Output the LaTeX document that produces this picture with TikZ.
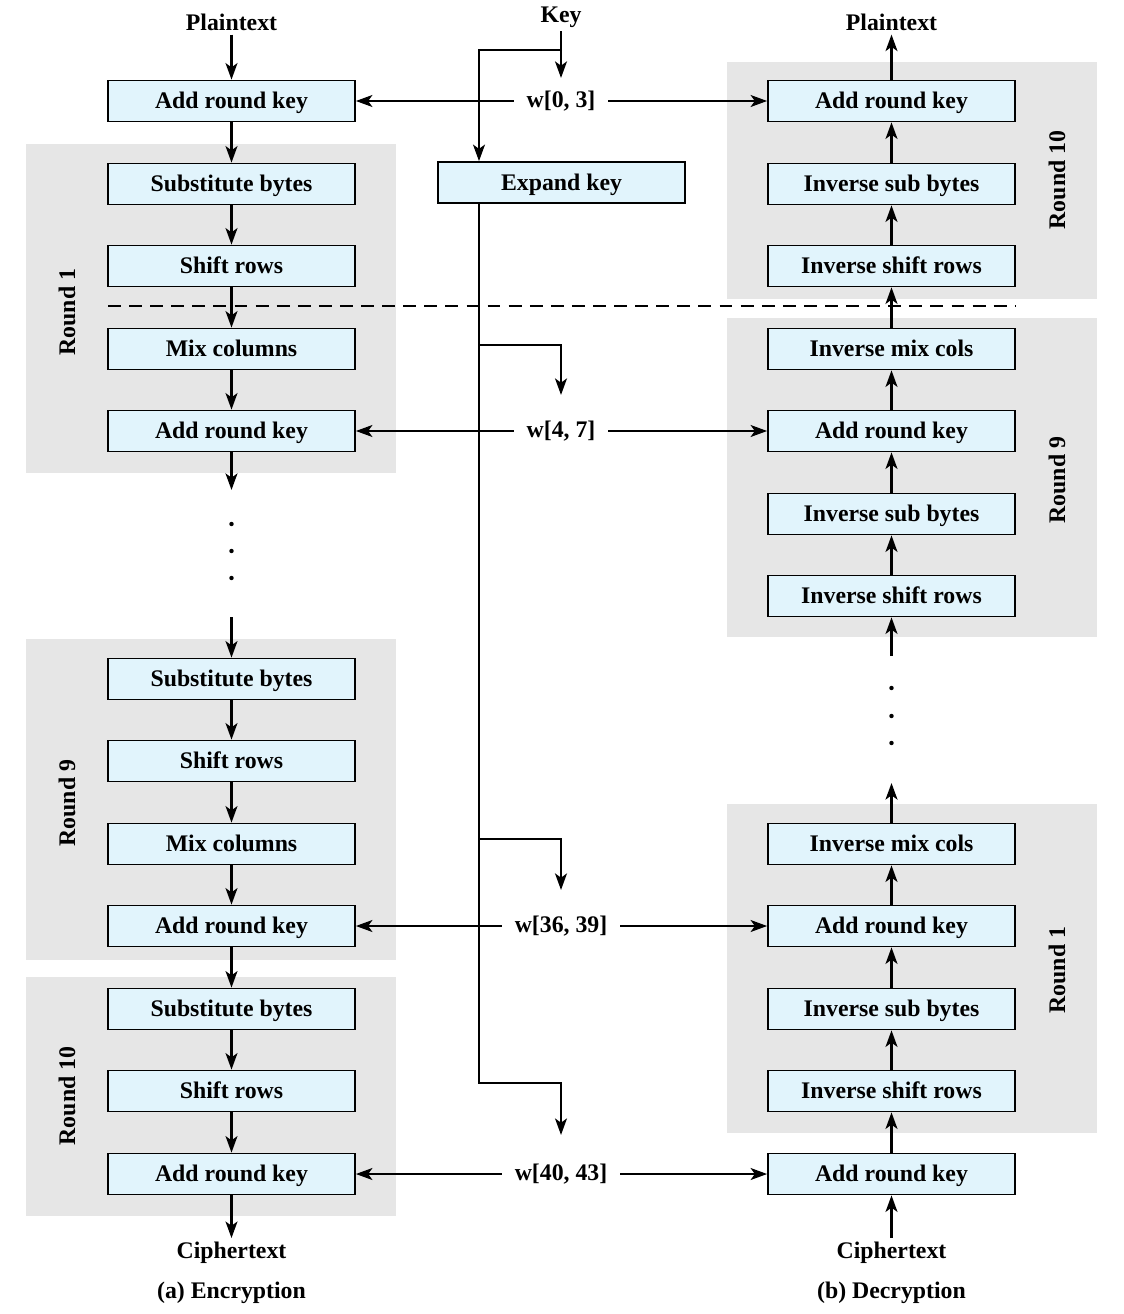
\documentclass[tikz,border=0pt]{standalone}
\usepackage{fontspec}
\setmainfont{Liberation Serif}
\usetikzlibrary{arrows.meta,positioning}
\definecolor{panelgray}{HTML}{E6E6E6}
\definecolor{stageblue}{HTML}{E1F4FC}

\begin{document}
\begin{tikzpicture}[x=0.03cm,y=-0.03cm,>={Stealth[length=14pt,width=10pt,inset=3.5pt]},
  font=\fontsize{20.3}{23}\selectfont\bfseries,
  stage/.style={draw,line width=1.4pt,fill=stageblue,minimum width=7.41cm,minimum height=1.23cm,
    inner sep=0pt,text height=13.4pt,text depth=0pt},
  flow/.style={->,line width=2.5pt},
  roundlbl/.style={rotate=90},
  keylbl/.style={inner xsep=11pt}]
  \useasboundingbox (0,0) rectangle (1124,1314);

  % grey round panels
  \fill[panelgray] (26,144) rectangle (396,473);
  \fill[panelgray] (26,639) rectangle (396,960);
  \fill[panelgray] (26,977) rectangle (396,1216);
  \fill[panelgray] (727,62) rectangle (1097,299);
  \fill[panelgray] (727,318) rectangle (1097,637);
  \fill[panelgray] (727,804) rectangle (1097,1133);
  \node[roundlbl] (lr1) at (67,312) {Round 1};
  \node[roundlbl] (lr9) at (67,803) {Round 9};
  \node[roundlbl] (lr10) at (67,1096) {Round 10};
  \node[roundlbl] (rr10) at (1057,180) {Round 10};
  \node[roundlbl] (rr9) at (1057,480) {Round 9};
  \node[roundlbl] (rr1) at (1057,970) {Round 1};

  \draw[dashed,line width=1.3pt,dash pattern=on 11pt off 7pt] (108,306) -- (1015,306);

  % (a) encryption
  \node (ptl) at (231.5,22) {Plaintext};
  \node[stage] (e0k) at (231.5,101) {Add round key};
  \node[stage] (e1s) at (231.5,184) {Substitute bytes};
  \node[stage] (e1r) at (231.5,266) {Shift rows};
  \node[stage] (e1m) at (231.5,349) {Mix columns};
  \node[stage] (e1k) at (231.5,431) {Add round key};
  \coordinate (gapa) at (231.5,490);
  \coordinate (gapb) at (231.5,617);
  \node[stage] (e9s) at (231.5,679) {Substitute bytes};
  \node[stage] (e9r) at (231.5,761) {Shift rows};
  \node[stage] (e9m) at (231.5,844) {Mix columns};
  \node[stage] (e9k) at (231.5,926) {Add round key};
  \node[stage] (e10s) at (231.5,1009) {Substitute bytes};
  \node[stage] (e10r) at (231.5,1091) {Shift rows};
  \node[stage] (e10k) at (231.5,1174) {Add round key};
  \node (ctl) at (231.5,1253) {Ciphertext};
  \node (capa) at (231.5,1293) {(a) Encryption};
  \foreach \y in {524,551,578} \fill (231.5,\y) circle (1.9pt);

  % (b) decryption
  \node (ptr) at (891.5,22) {Plaintext};
  \node[stage] (d10k) at (891.5,101) {Add round key};
  \node[stage] (d10s) at (891.5,184) {Inverse sub bytes};
  \node[stage] (d10r) at (891.5,266) {Inverse shift rows};
  \node[stage] (d9m) at (891.5,349) {Inverse mix cols};
  \node[stage] (d9k) at (891.5,431) {Add round key};
  \node[stage] (d9s) at (891.5,514) {Inverse sub bytes};
  \node[stage] (d9r) at (891.5,596) {Inverse shift rows};
  \coordinate (gapc) at (891.5,656);
  \coordinate (gapd) at (891.5,783);
  \node[stage] (d1m) at (891.5,844) {Inverse mix cols};
  \node[stage] (d1k) at (891.5,926) {Add round key};
  \node[stage] (d1s) at (891.5,1009) {Inverse sub bytes};
  \node[stage] (d1r) at (891.5,1091) {Inverse shift rows};
  \node[stage] (d0k) at (891.5,1174) {Add round key};
  \node (ctr) at (891.5,1253) {Ciphertext};
  \node (capb) at (891.5,1293) {(b) Decryption};
  \foreach \y in {688,716,743} \fill (891.5,\y) circle (1.9pt);

  % key schedule
  \node (key) at (561,17) {Key};
  \node[stage] (exp) at (561.5,182.5) {Expand key};
  \node[keylbl] (w03) at (561,101) {w[0, 3]};
  \node[keylbl] (w47) at (561,431) {w[4, 7]};
  \node[keylbl] (w3639) at (561,926) {w[36, 39]};
  \node[keylbl] (w4043) at (561,1174) {w[40, 43]};
  \coordinate (ktip) at (561,78);
  \coordinate (ksplit) at (562,50);
  \coordinate (kbend) at (479,50);
  \coordinate (s4) at (479,345);
  \coordinate (s36) at (479,839);
  \coordinate (s40) at (479,1083);
  \coordinate (t4) at (561,395);
  \coordinate (t36) at (561,890);
  \coordinate (t40) at (561,1135);

  \draw[flow] (key) -- (ktip);
  \draw[flow] (ksplit) -- (kbend) -- (kbend |- exp.north);
  \draw[flow] (kbend |- exp.south) -- (s40) -| (t40);
  \draw[flow] (s4) -| (t4);
  \draw[flow] (s36) -| (t36);

  \foreach \w/\a/\b in {w03/e0k/d10k, w47/e1k/d9k, w3639/e9k/d1k, w4043/e10k/d0k} {
    \draw[flow] (\w) -- (\a);
    \draw[flow] (\w) -- (\b);
  }

  % data path
  \foreach \a/\b in {ptl/e0k, e0k/e1s, e1s/e1r, e1r/e1m, e1m/e1k, e1k/gapa,
      gapb/e9s, e9s/e9r, e9r/e9m, e9m/e9k, e9k/e10s, e10s/e10r, e10r/e10k, e10k/ctl}
    \draw[flow] (\a) -- (\b);
  \foreach \a/\b in {d10k/ptr, d10s/d10k, d10r/d10s, d9m/d10r, d9k/d9m, d9s/d9k, d9r/d9s,
      gapc/d9r, d1m/gapd, d1k/d1m, d1s/d1k, d1r/d1s, d0k/d1r, ctr/d0k}
    \draw[flow] (\a) -- (\b);
\end{tikzpicture}
\end{document}
